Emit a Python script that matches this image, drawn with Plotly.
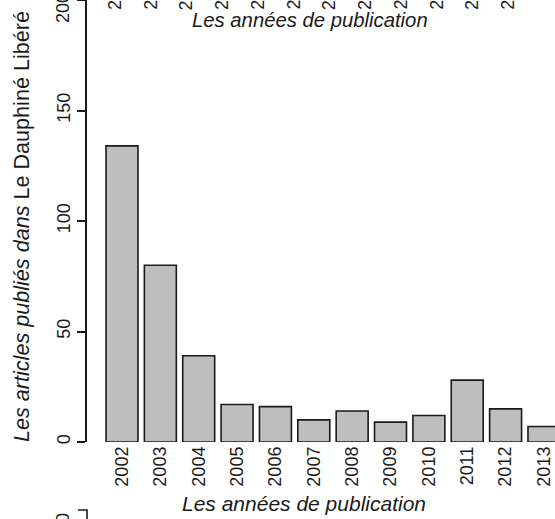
import plotly.graph_objects as go

# ---- data ----
years = ["2002", "2003", "2004", "2005", "2006", "2007",
         "2008", "2009", "2010", "2011", "2012", "2013"]
articles = [134, 80, 39, 17, 16, 10, 14, 9, 12, 28, 15, 7]
y_ticks = [0, 50, 100, 150, 200]
upper_labels = years  # tick labels of the (cropped) chart above
x_title = "Les années de publication"
y_title_italic = "Les articles publiés dans"
y_title_plain = "Le Dauphiné Libéré"
lower_tick_label = "200"  # top label of the (cropped) chart below

# ---- layout geometry (pixels) ----
W, H = 555, 519
L, R, T, B = 87, 0, 0, 77
PW, PH = W - L - R, H - T - B


def px(x):
    return (x - L) / PW


def py(y):
    return (T + PH - y) / PH


FONT = "Liberation Sans, Arial, Helvetica, sans-serif"
INK = "#1a1a1a"

fig = go.Figure(
    go.Bar(
        x=years,
        y=articles,
        marker=dict(color="#BEBEBE", line=dict(color=INK, width=1.6)),
        hoverinfo="x+y",
    )
)

fig.update_layout(
    width=W,
    height=H,
    margin=dict(l=L, r=R, t=T, b=B, pad=0, autoexpand=False),
    plot_bgcolor="white",
    paper_bgcolor="white",
    bargap=0.167,
    showlegend=False,
    font=dict(family=FONT, color=INK),
)

fig.update_xaxes(
    type="category",
    range=[-0.912, 11.288],
    automargin=False,
    showline=False,
    showgrid=False,
    zeroline=False,
    ticks="",
    tickangle=-90,
    tickfont=dict(size=18, family=FONT, color=INK),
)

# the top label (at the very edge of the picture) is drawn as an annotation
# so that it stays visible, as in the reference
fig.update_yaxes(
    range=[0, 200],
    automargin=False,
    tickvals=y_ticks,
    ticktext=[str(v) if v != y_ticks[-1] else "" for v in y_ticks],
    showline=True,
    linecolor=INK,
    linewidth=1.6,
    ticks="outside",
    ticklen=8,
    tickwidth=1.6,
    tickcolor=INK,
    tickangle=-90,
    tickfont=dict(size=18, family=FONT, color=INK),
    showgrid=False,
    zeroline=False,
)

annotations = [
    dict(
        text=str(y_ticks[-1]),
        xref="paper", yref="paper",
        x=px(63), y=py(25),
        xanchor="center", yanchor="bottom",
        textangle=-90,
        showarrow=False,
        font=dict(size=18, family=FONT, color=INK),
    ),
    dict(
        text=f"<i>{x_title}</i>",
        xref="paper", yref="paper",
        x=px(303.5), y=py(503),
        xanchor="center", yanchor="middle",
        showarrow=False,
        font=dict(size=21, family=FONT, color=INK),
    ),
    dict(
        text=f"<i>{y_title_italic}</i> {y_title_plain}",
        xref="paper", yref="paper",
        x=px(22), y=py(227),
        xanchor="center", yanchor="middle",
        textangle=-90,
        showarrow=False,
        font=dict(size=21.6, family=FONT, color=INK),
    ),
    # remnants of the chart above
    dict(
        text=f"<i>{x_title}</i>",
        xref="paper", yref="paper",
        x=px(309.5), y=py(20),
        xanchor="center", yanchor="middle",
        showarrow=False,
        font=dict(size=20.3, family=FONT, color=INK),
    ),
    # remnant of the chart below
    dict(
        text=lower_tick_label,
        xref="paper", yref="paper",
        x=px(63), y=py(511),
        xanchor="center", yanchor="top",
        textangle=-90,
        showarrow=False,
        font=dict(size=18, family=FONT, color=INK),
    ),
]

for i, lab in enumerate(upper_labels):
    annotations.append(
        dict(
            text=lab,
            xref="paper", yref="paper",
            x=px(115 + 35.7 * i), y=py(12),
            xanchor="center", yanchor="bottom",
            textangle=-90,
            showarrow=False,
            font=dict(size=18, family=FONT, color=INK),
        )
    )

fig.update_layout(annotations=annotations)

fig.add_shape(
    type="path",
    xref="paper", yref="paper",
    path=f"M {px(78)},{py(510)} L {px(87)},{py(510)} L {px(87)},{py(530)}",
    line=dict(color=INK, width=1.6),
)

fig.write_html(
    "out.html",
    config={"displayModeBar": False},
    post_script="document.body.style.margin='0';document.body.style.overflow='hidden';",
)
